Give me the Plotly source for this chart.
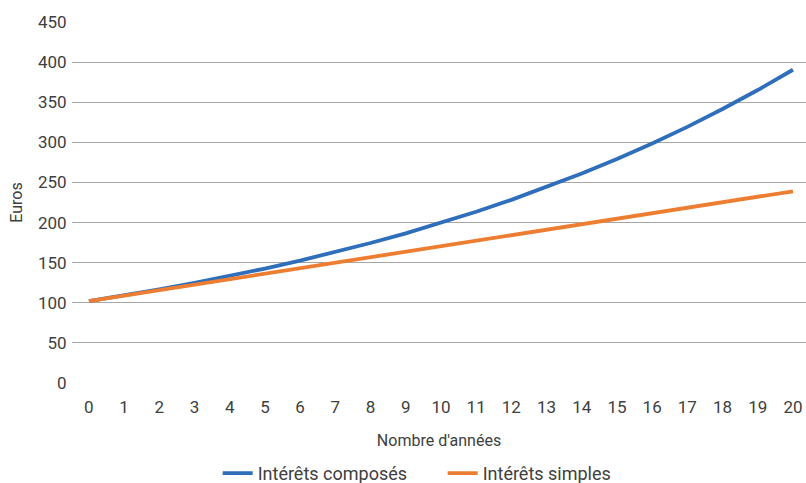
import plotly.graph_objects as go

years = list(range(21))
composes = [102, 109.1, 116.6, 124.7, 133.4, 142.7, 152.6, 163.2, 174.5, 186.6, 199.6,
            213.4, 228.3, 244.1, 261.1, 279.2, 298.6, 319.3, 341.5, 365.2, 390.5]
simples = [102, 108.9, 115.7, 122.6, 129.4, 136.3, 143.1, 150, 156.8, 163.7, 170.5,
           177.4, 184.2, 191.1, 197.9, 204.8, 211.6, 218.5, 225.3, 232.2, 239]
y_ticks = [0, 50, 100, 150, 200, 250, 300, 350, 400, 450]

fig = go.Figure()
fig.add_trace(go.Scatter(x=years, y=composes, mode="lines", name="Intérêts composés",
                         line=dict(color="#2E6EBA", width=3.8)))
fig.add_trace(go.Scatter(x=years, y=simples, mode="lines", name="Intérêts simples",
                         line=dict(color="#ED7D31", width=3.8)))

font_fam = "Roboto, Open Sans, sans-serif"
fig.update_layout(
    width=806, height=483,
    margin=dict(l=72, r=0, t=22, b=100),
    paper_bgcolor="white", plot_bgcolor="white",
    font=dict(family=font_fam, color="#404040", size=17),
    showlegend=True,
    legend=dict(orientation="h", x=0.505, xanchor="center",
                yref="container", y=0.02, yanchor="middle",
                font=dict(size=18, color="#404040"), traceorder="normal",
                entrywidth=180, entrywidthmode="pixels"),
    xaxis=dict(range=[-0.48, 20.37], tickmode="array", tickvals=years,
               ticktext=[str(v) for v in years], showgrid=False, zeroline=False,
               showline=False, ticks="outside", ticklen=9, tickcolor="white",
               tickfont=dict(size=17), automargin=False,
               title=dict(text="Nombre d'années", font=dict(size=16), standoff=18)),
    yaxis=dict(range=[0, 450], tickmode="array", tickvals=y_ticks, showgrid=True,
               gridcolor="#A6A6A6", gridwidth=1, zeroline=False, showline=False,
               ticks="outside", ticklen=1, tickcolor="white", tickfont=dict(size=17),
               automargin=False,
               title=dict(text="Euros", font=dict(size=16), standoff=11)),
)
fig.write_html("out.html", config={"displayModeBar": False},
               post_script="document.body.style.margin='0';document.body.style.padding='0';")
